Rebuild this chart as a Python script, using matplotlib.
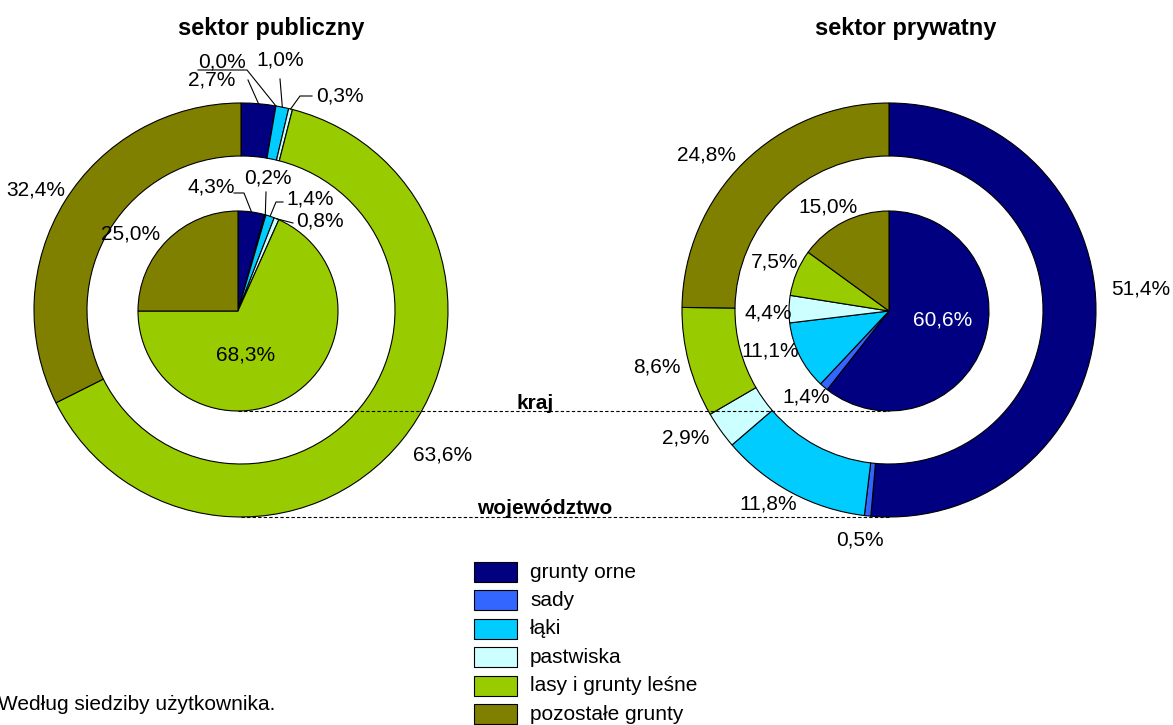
import numpy as np
import matplotlib.pyplot as plt
from matplotlib.patches import Rectangle

plt.rcParams['font.family'] = ['Liberation Sans', 'DejaVu Sans']

categories = ['grunty orne', 'sady', 'łąki', 'pastwiska', 'lasy i grunty leśne', 'pozostałe grunty']
colors = ['#000080', '#3366FF', '#00CCFF', '#CCFFFF', '#99CC00', '#808000']

# outer ring = województwo, inner pie = kraj
publ_woj = [2.7, 0.0, 1.0, 0.3, 63.6, 32.4]
publ_kraj = [4.3, 0.2, 1.4, 0.8, 68.3, 25.0]
pryw_woj = [51.4, 0.5, 11.8, 2.9, 8.6, 24.8]
pryw_kraj = [60.6, 1.4, 11.1, 4.4, 7.5, 15.0]

W, H = 1173, 725
fig = plt.figure(figsize=(W / 100, H / 100), dpi=100)
ax = fig.add_axes([0, 0, 1, 1])
ax.set_xlim(0, W)
ax.set_ylim(0, H)
ax.set_aspect('equal')
ax.axis('off')

FS = 15


def fmt(v):
    return f'{v:.1f}%'.replace('.', ',')


def anchor(vals, i, center, r):
    tot = sum(vals)
    mid = (sum(vals[:i]) + vals[i] / 2) / tot * 360
    th = np.deg2rad(mid)
    return center[0] + r * np.sin(th), center[1] + r * np.cos(th)


def Y(y):
    return H - y


R_OUT, R_IN, R_PIE = 207, 154, 100
wedge = dict(edgecolor='black', linewidth=0.8)

charts = [
    dict(title='sektor publiczny', tx=271, woj=publ_woj, kraj=publ_kraj,
         c_ring=(241, Y(310)), c_pie=(238, Y(311)),
         woj_lab=[(235, 80, 'right', [(248, 80)]), (222, 62, 'center', [(198, 70), (247, 70)]),
                  (280, 60, 'center', [(280, 79)]), (316, 96, 'left', [(312, 96), (300, 96)]),
                  (443, 455, 'center', None), (36, 190, 'center', None)],
         kraj_lab=[(211, 187, 'center', [(234, 193), (244, 193)]), (268, 178, 'center', [(266, 192)]),
                   (286, 199, 'left', [(283, 202), (276, 202)]), (296, 221, 'left', [(293, 223)]),
                   (246, 355, 'center', None), (131, 234, 'center', None)]),
    dict(title='sektor prywatny', tx=906, woj=pryw_woj, kraj=pryw_kraj,
         c_ring=(889, Y(310)), c_pie=(889, Y(311)),
         woj_lab=[(1141, 289, 'center', None), (860, 540, 'center', None), (768, 504, 'center', None),
                  (686, 438, 'center', None), (657, 367, 'center', None), (707, 155, 'center', None)],
         kraj_lab=[(943, 320, 'center', None), (806, 397, 'center', None), (770, 351, 'center', None),
                   (768, 313, 'center', None), (775, 262, 'center', None), (828, 207, 'center', None)]),
]

for ch in charts:
    ax.pie(ch['woj'], colors=colors, startangle=90, counterclock=False,
           center=ch['c_ring'], radius=R_OUT, frame=True,
           wedgeprops=dict(width=R_OUT - R_IN, **wedge))
    ax.pie(ch['kraj'], colors=colors, startangle=90, counterclock=False,
           center=ch['c_pie'], radius=R_PIE, frame=True, wedgeprops=wedge)
    ax.text(ch['tx'], Y(28), ch['title'], ha='center', va='center', fontsize=17, fontweight='bold')
    for vals, labs, c, r in [(ch['woj'], ch['woj_lab'], ch['c_ring'], R_OUT),
                             (ch['kraj'], ch['kraj_lab'], ch['c_pie'], R_PIE)]:
        for i, (lx, ly, ha, lead) in enumerate(labs):
            col = 'white' if (ch['title'] == 'sektor prywatny' and r == R_PIE and i == 0) else 'black'
            ax.text(lx, Y(ly), fmt(vals[i]), ha=ha, va='center', fontsize=FS, color=col)
            if lead:
                ax_, ay_ = anchor(vals, i, c, r)
                xs = [p[0] for p in lead] + [ax_]
                ys = [Y(p[1]) for p in lead] + [ay_]
                ax.plot(xs, ys, color='black', linewidth=0.8)

# dashed connectors at pie bottoms
ax.plot([238, 889], [Y(411), Y(411)], color='black', linestyle='--', linewidth=0.8, dashes=(3, 2))
ax.plot([241, 889], [Y(517), Y(517)], color='black', linestyle='--', linewidth=0.8, dashes=(3, 2))
ax.text(535, Y(403), 'kraj', ha='center', va='center', fontsize=15, fontweight='bold')
ax.text(545, Y(509), 'województwo', ha='center', va='center', fontsize=15, fontweight='bold')

# legend
for k, (name, col) in enumerate(zip(categories, colors)):
    yy = 572 + k * 28.4
    ax.add_patch(Rectangle((474, Y(yy + 10)), 43, 20, facecolor=col, edgecolor='black', linewidth=0.8))
    ax.text(530, Y(yy), name, ha='left', va='center', fontsize=FS)

ax.text(-2, Y(705), 'Według siedziby użytkownika.', ha='left', va='center', fontsize=FS)

ax.set_xlim(0, W)
ax.set_ylim(0, H)
fig.savefig('out.png', dpi=100)
